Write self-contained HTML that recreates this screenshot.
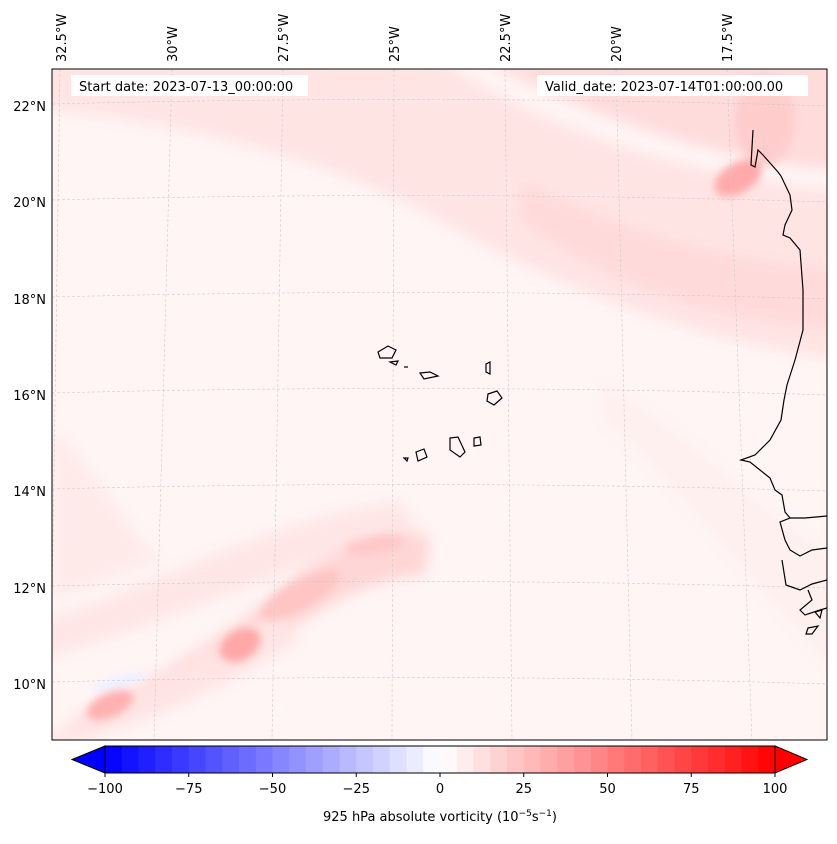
<!DOCTYPE html>
<html><head><meta charset="utf-8"><style>
body{margin:0;background:#fff;font-family:"Liberation Sans","DejaVu Sans",sans-serif;}
svg text{font-family:"DejaVu Sans","Liberation Sans",sans-serif;font-size:13px;fill:#000}
</style></head><body>
<svg width="837" height="839">
<defs>
<clipPath id="pc"><rect x="52" y="69" width="775" height="671"/></clipPath>
<filter id="b8"><feGaussianBlur stdDeviation="7"/></filter>
<filter id="b4"><feGaussianBlur stdDeviation="4"/></filter>
</defs>
<g clip-path="url(#pc)">
<rect x="52" y="69" width="775" height="671" fill="#fff5f5"/>
<g filter="url(#b8)">
<path d="M40,60 L440,60 C520,110 640,170 840,190 L840,360 C680,340 540,280 420,210 C300,150 160,120 40,110Z" fill="#ffe4e4"/>
<path d="M480,60 L840,60 L840,170 C700,160 580,110 480,60Z" fill="#ffdcdc"/>
<path d="M520,180 C620,230 720,260 840,270 L840,330 C700,320 600,280 520,220Z" fill="#ffdada"/>
<path d="M52,430 C100,470 120,520 160,560 L52,600Z" fill="#ffeaea"/>
<path d="M40,620 C150,590 260,520 400,500 L420,530 C300,560 180,620 40,660Z" fill="#ffe6e6"/>
<path d="M70,720 C150,680 220,640 280,590 C330,550 380,530 430,535 L425,575 C360,580 320,610 260,650 C200,690 130,725 70,735Z" fill="#ffd6d6"/>
<path d="M40,740 C120,700 200,660 280,610 L300,640 C220,690 140,730 40,750Z" fill="#ffe4e4"/>
<path d="M600,380 C680,420 750,500 840,560 L840,680 C760,600 690,500 600,420Z" fill="#fff0f0"/>
</g>
<g filter="url(#b4)">
<ellipse cx="110" cy="705" rx="25" ry="12" fill="#ffb0b0" transform="rotate(-25 110 705)"/>
<ellipse cx="240" cy="645" rx="22" ry="15" fill="#ffa8a8" transform="rotate(-30 240 645)"/>
<ellipse cx="300" cy="595" rx="45" ry="14" fill="#ffc4c4" transform="rotate(-30 300 595)"/>
<ellipse cx="375" cy="545" rx="30" ry="9" fill="#ffc8c8" transform="rotate(-10 375 545)"/>
<ellipse cx="738" cy="178" rx="26" ry="15" fill="#ffaaaa" transform="rotate(-30 738 178)"/>
<ellipse cx="765" cy="120" rx="30" ry="45" fill="#ffcccc"/>
<ellipse cx="120" cy="682" rx="30" ry="6" fill="#eef0ff" transform="rotate(-15 120 682)"/>
</g>
</g>
<g stroke="#ccc" stroke-width="0.6" stroke-dasharray="3,2" fill="none" clip-path="url(#pc)">
<path d="M60,69 L50,740"/><path d="M172,69 L154,740"/><path d="M283,69 L272,740"/><path d="M394,69 L392,740"/><path d="M505,69 L512,740"/><path d="M616,69 L632,740"/><path d="M727,69 L752,740"/>
<path d="M52,104 Q440,94 827,106"/><path d="M52,200 Q440,190 827,202"/><path d="M52,297 Q440,287 827,299"/><path d="M52,393 Q440,383 827,395"/><path d="M52,489 Q440,479 827,491"/><path d="M52,586 Q440,576 827,588"/><path d="M52,682 Q440,672 827,684"/>
</g>
<g stroke="#000" stroke-width="1.2" fill="none" clip-path="url(#pc)">
<path d="M753,130 L751,165 L755,167 L758,150 L763,155 L778,172 L781,176 L790,195 L792,210 L785,225 L783,235 L790,238 L800,250 L803,290 L803,330 L795,360 L787,385 L784,400 L781,420 L770,440 L755,455 L741,460 L750,462 L770,478 L775,490 L782,495 L785,512 L790,518 L780,522 L785,540 L790,550 L800,556 L812,550 L827,548"/>
<path d="M790,518 L805,518 L827,516"/>
<path d="M782,560 L786,585 L800,590 L812,584 L827,580"/>
<path d="M808,590 L812,600 L800,610 L805,615 L820,610 L827,608"/>
<path d="M808,628 L818,626 L812,634 L806,634Z"/><path d="M815,612 L822,610 L820,618Z"/>
</g>
<g stroke="#000" stroke-width="1.2" fill="none">
<path d="M378,352 L388,346 L396,350 L392,358 L380,358Z"/>
<path d="M390,362 L398,361 L396,365 Z"/>
<path d="M404,367 L408,367"/>
<path d="M420,373 L430,372 L438,376 L424,379Z"/>
<path d="M486,364 L490,362 L490,374 L486,372Z"/>
<path d="M488,394 L497,391 L502,398 L494,405 L487,401Z"/>
<path d="M450,438 L458,437 L465,452 L460,457 L450,450Z"/>
<path d="M474,438 L480,437 L481,445 L474,446Z"/>
<path d="M416,452 L424,449 L427,457 L418,461Z"/>
<path d="M404,458 L408,458 L407,461 Z"/>
</g>
<rect x="52" y="69" width="775" height="671" fill="none" stroke="#000" stroke-width="1"/>
<rect x="71" y="75" width="237" height="21" fill="#fff"/>
<text x="79" y="91">Start date: 2023-07-13_00:00:00</text>
<rect x="537" y="75" width="271" height="21" fill="#fff"/>
<text x="545" y="91">Valid_date: 2023-07-14T01:00:00.00</text>
<g id="latl"></g>
<g id="lonl"></g>
<g id="cbar"></g>
<text x="440" y="821" text-anchor="middle">925 hPa absolute vorticity (10<tspan dy="-5" font-size="9">−5</tspan><tspan dy="5">s</tspan><tspan dy="-5" font-size="9">−1</tspan><tspan dy="5">)</tspan></text>
</svg>
<script>
const latLabels=["22°N","20°N","18°N","16°N","14°N","12°N","10°N"];
const latY=[106,202,299,395,491,588,684];
const lonLabels=["32.5°W","30°W","27.5°W","25°W","22.5°W","20°W","17.5°W"];
const cbTicks=[-100,-75,-50,-25,0,25,50,75,100];
const cbMin=-100, cbMax=100, cbStep=5;
const NS="http://www.w3.org/2000/svg";
const lat=document.getElementById('latl');
latLabels.forEach((t,i)=>{const e=document.createElementNS(NS,'text');


e.setAttribute('x',46);e.setAttribute('y',latY[i]+5);e.setAttribute('text-anchor','end');e.textContent=t;lat.appendChild(e);});
const lon=document.getElementById('lonl');
lonLabels.forEach((t,i)=>{const x=66+i*111;const e=document.createElementNS(NS,'text');


e.setAttribute('transform',`translate(${x},62) rotate(-90)`);e.textContent=t;lon.appendChild(e);});
const cb=document.getElementById('cbar');
const x0=105,x1=775,y0=746,y1=773;
const sx=v=>x0+(v-cbMin)/(cbMax-cbMin)*(x1-x0);
function col(v){const m=v+cbStep/2;const a=Math.abs(m)/100;
if(m<0){const c=Math.round(255*(1-a));return `rgb(${c},${c},255)`;}const c=Math.round(255*(1-a));return `rgb(255,${c},${c})`;}
for(let v=cbMin;v<cbMax;v+=cbStep){const r=document.createElementNS(NS,'rect');


r.setAttribute('x',sx(v));r.setAttribute('y',y0);r.setAttribute('width',sx(v+cbStep)-sx(v)+0.5);r.setAttribute('height',y1-y0);r.setAttribute('fill',col(v));cb.appendChild(r);}
const l=document.createElementNS(NS,'polygon');


l.setAttribute('points',`${x0},${y0} 72,${(y0+y1)/2} ${x0},${y1}`);l.setAttribute('fill','#0000ff');l.setAttribute('stroke','#000');cb.appendChild(l);
const h=document.createElementNS(NS,'polygon');


h.setAttribute('points',`${x1},${y0} 807,${(y0+y1)/2} ${x1},${y1}`);h.setAttribute('fill','#ff0000');h.setAttribute('stroke','#000');cb.appendChild(h);
const o=document.createElementNS(NS,'rect');


o.setAttribute('x',x0);o.setAttribute('y',y0);o.setAttribute('width',x1-x0);o.setAttribute('height',y1-y0);o.setAttribute('fill','none');o.setAttribute('stroke','#000');cb.appendChild(o);
cbTicks.forEach(v=>{const x=sx(v);const t=document.createElementNS(NS,'line');


t.setAttribute('x1',x);t.setAttribute('x2',x);t.setAttribute('y1',y1);t.setAttribute('y2',y1+4);t.setAttribute('stroke','#000');cb.appendChild(t);
const e=document.createElementNS(NS,'text');


e.setAttribute('x',x);e.setAttribute('y',793);e.setAttribute('text-anchor','middle');e.textContent=v<0?'−'+Math.abs(v):String(v);cb.appendChild(e);});
</script>
</body></html>
